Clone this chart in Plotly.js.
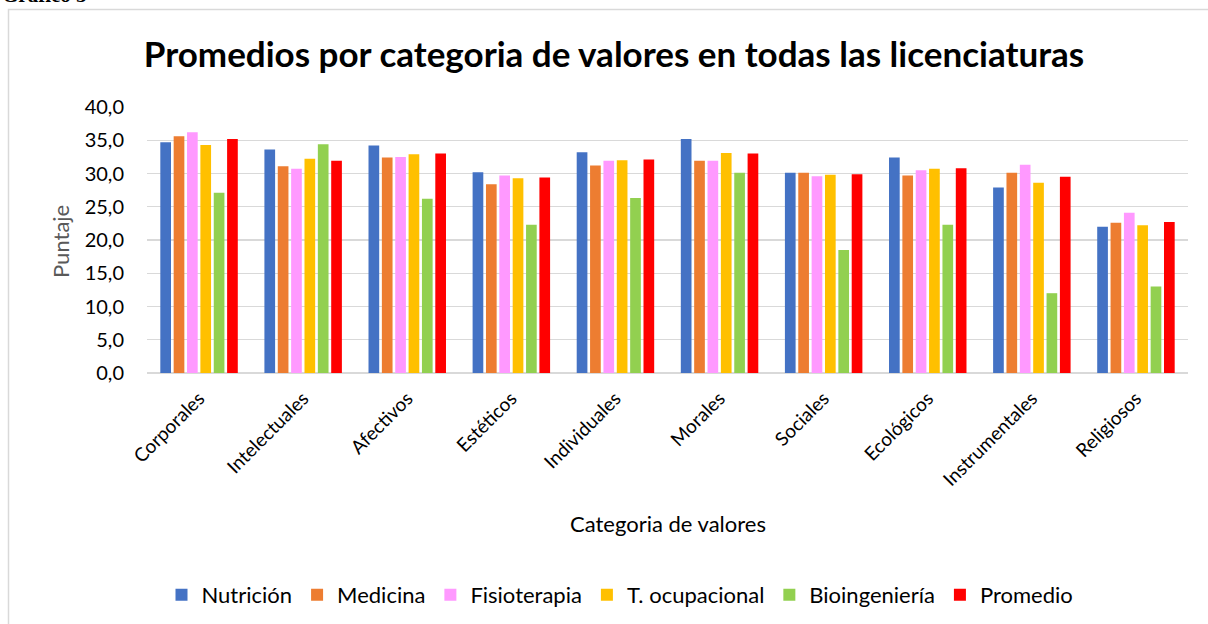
<!DOCTYPE html>
<html>
<head>
<meta charset="utf-8">
<script src="https://cdn.plot.ly/plotly-3.0.1.min.js"></script>
<style>
  html, body { margin: 0; padding: 0; background: #ffffff; }
  #chart { width: 1208px; height: 624px; }
</style>
</head>
<body>
<div id="chart"></div>
<script>
const categories = ["Corporales", "Intelectuales", "Afectivos", "Estéticos", "Individuales",
                    "Morales", "Sociales", "Ecológicos", "Instrumentales", "Religiosos"];

const seriesNames = ["Nutrición", "Medicina", "Fisioterapia", "T. ocupacional", "Bioingeniería", "Promedio"];

const nutricion     = [34.7, 33.6, 34.2, 30.2, 33.2, 35.2, 30.1, 32.4, 27.9, 22.0];
const medicina      = [35.6, 31.1, 32.4, 28.4, 31.2, 31.9, 30.1, 29.7, 30.1, 22.6];
const fisioterapia  = [36.2, 30.7, 32.5, 29.7, 31.9, 31.9, 29.6, 30.5, 31.3, 24.1];
const tOcupacional  = [34.3, 32.2, 32.9, 29.3, 32.0, 33.1, 29.8, 30.7, 28.6, 22.2];
const bioingenieria = [27.1, 34.4, 26.2, 22.3, 26.3, 30.1, 18.5, 22.3, 12.0, 13.0];
const promedio      = [35.2, 31.9, 33.0, 29.4, 32.1, 33.0, 29.9, 30.8, 29.5, 22.7];

const seriesValues = [nutricion, medicina, fisioterapia, tOcupacional, bioingenieria, promedio];
const seriesColors = ["#4472C4", "#ED7D31", "#FF99FF", "#FFC000", "#92D050", "#FF0000"];

const titleText = "Promedios por categoria de valores en todas las licenciaturas";
const yTitle = "Puntaje";
const xTitle = "Categoria de valores";
const captionText = "Gráfico 5";

const FONT = "Lato, 'Open Sans', sans-serif";

const traces = seriesNames.map((name, i) => ({
  type: "bar",
  name: name,
  x: categories,
  y: seriesValues[i],
  marker: { color: seriesColors[i], line: { width: 0 } },
  hoverinfo: "none"
}));

// plot area in pixels: x 147..1188, y 107..373
const L = 147, R = 20, T = 107, B = 251;
const W = 1208, H = 624;
const pw = W - L - R, ph = H - T - B;
const px = v => (v - L) / pw;
const py = v => (H - B - v) / ph;

const layout = {
  width: W,
  height: H,
  margin: { l: L, r: R, t: T, b: B, pad: 0 },
  paper_bgcolor: "#ffffff",
  plot_bgcolor: "#ffffff",
  separators: ",.",
  font: { family: FONT, color: "#000000", size: 16 },
  barmode: "group",
  bargap: 0.23,
  bargroupgap: 0.2,
  showlegend: true,
  title: {
    text: "<b>" + titleText + "</b>",
    font: { family: FONT, size: 35, color: "#000000" },
    x: 614 / W,
    xanchor: "center",
    xref: "container",
    y: 1 - 55 / H,
    yanchor: "middle",
    yref: "container"
  },
  xaxis: {
    type: "category",
    tickangle: -45,
    tickfont: { family: FONT, size: 19, color: "#000000" },
    ticks: "outside",
    ticklen: 6,
    tickcolor: "rgba(0,0,0,0)",
    showline: false,
    showgrid: false,
    zeroline: false
  },
  yaxis: {
    range: [0, 40],
    dtick: 5,
    tick0: 0,
    tickformat: ".1f",
    tickfont: { family: FONT, size: 20, color: "#000000" },
    ticks: "outside",
    ticklen: 18,
    tickcolor: "rgba(0,0,0,0)",
    showgrid: true,
    gridcolor: "#D9D9D9",
    gridwidth: 1.3,
    zeroline: true,
    zerolinecolor: "#D9D9D9",
    zerolinewidth: 1.3,
    showline: false
  },
  legend: {
    orientation: "h",
    x: 620 / W,
    xref: "container",
    xanchor: "center",
    y: 1 - 595 / H,
    yref: "container",
    yanchor: "middle",
    font: { family: FONT, size: 22, color: "#000000" },
    itemwidth: 30,
    tracegroupgap: 0,
    bgcolor: "rgba(0,0,0,0)"
  },
  shapes: [
    {
      type: "rect", xref: "paper", yref: "paper",
      x0: px(8.5), x1: px(1215), y0: py(640), y1: py(9.5),
      line: { color: "#D9D9D9", width: 1.5 },
      fillcolor: "rgba(0,0,0,0)",
      layer: "below"
    }
  ],
  annotations: [
    {
      text: yTitle, xref: "paper", yref: "paper",
      x: px(60), y: py(242), xanchor: "center", yanchor: "middle",
      textangle: -90, showarrow: false,
      font: { family: FONT, size: 22, color: "#595959" }
    },
    {
      text: xTitle, xref: "paper", yref: "paper",
      x: px(668), y: py(523), xanchor: "center", yanchor: "middle",
      showarrow: false,
      font: { family: FONT, size: 22, color: "#000000" }
    },
    {
      text: "<b>" + captionText + "</b>", xref: "paper", yref: "paper",
      x: px(0), y: py(-5), xanchor: "left", yanchor: "middle",
      showarrow: false,
      font: { family: "'Liberation Serif', serif", size: 21, color: "#000000" }
    }
  ]
};

Plotly.newPlot("chart", traces, layout, { staticPlot: true, displayModeBar: false });
</script>
</body>
</html>
